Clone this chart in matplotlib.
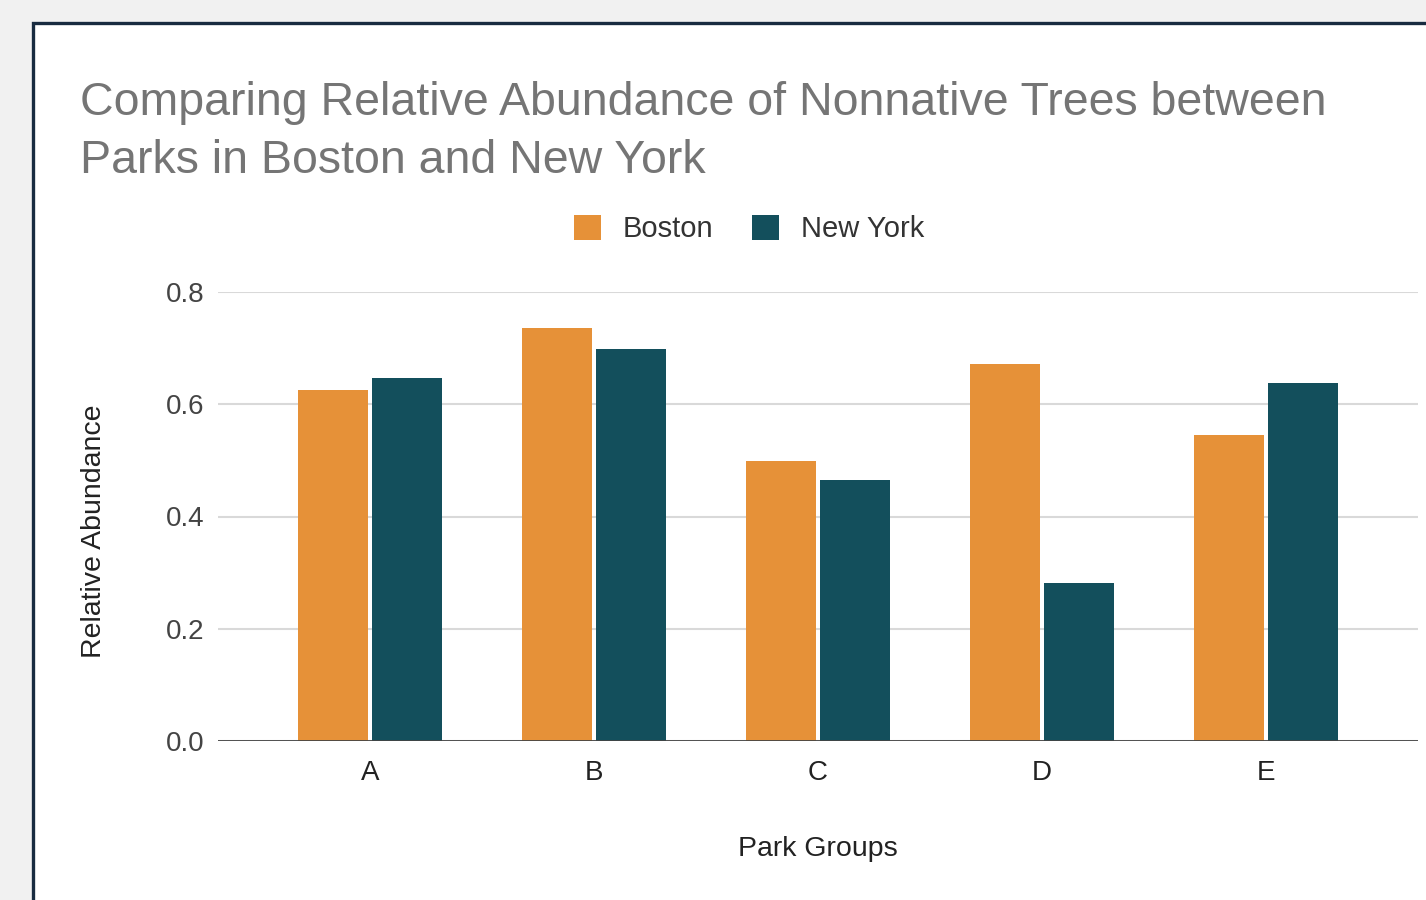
import matplotlib
matplotlib.use("Agg")
import matplotlib.pyplot as plt
import numpy as np
from matplotlib.patches import Rectangle

plt.rcParams["font.family"] = ["Liberation Sans", "DejaVu Sans"]

groups = ["A", "B", "C", "D", "E"]
boston = [0.625, 0.736, 0.499, 0.672, 0.545]
new_york = [0.647, 0.698, 0.465, 0.282, 0.638]
yticks = [0.0, 0.2, 0.4, 0.6, 0.8]

ORANGE = "#e69138"
TEAL = "#134f5c"
W, H = 1426, 900


def fx(px):
    return px / W


def fy(py):
    return 1 - py / H


fig = plt.figure(figsize=(W / 100, H / 100), dpi=100, facecolor="#f1f1f1")

# white card with dark border, running off the right and bottom edges
card = Rectangle((fx(33), -0.05), 1.1, fy(23) + 0.05, transform=fig.transFigure,
                 facecolor="white", edgecolor="#182b40", linewidth=2.4, zorder=-1)
fig.patches.append(card)

fig.text(fx(80), fy(115), "Comparing Relative Abundance of Nonnative Trees between",
         fontsize=33.5, color="#757575", va="baseline", ha="left")
fig.text(fx(80), fy(173), "Parks in Boston and New York",
         fontsize=33.5, color="#757575", va="baseline", ha="left")

ax = fig.add_axes([fx(218), fy(741), fx(1418) - fx(218), fy(292) - fy(741)])
ax.patch.set_alpha(0)

x = np.arange(len(groups))
bw = 0.31
ax.bar(x - 0.165, boston, bw, color=ORANGE, label="Boston", zorder=3)
ax.bar(x + 0.165, new_york, bw, color=TEAL, label="New York", zorder=3)

ax.set_xlim(-0.679, 4.679)
ax.set_ylim(0, 0.8)
ax.set_yticks(yticks)
ax.set_yticklabels([f"{v:.1f}" for v in yticks])
ax.set_xticks(x)
ax.set_xticklabels(groups)
ax.tick_params(axis="y", length=0, pad=10, labelsize=20, labelcolor="#444444")
ax.tick_params(axis="x", length=0, pad=14, labelsize=20, labelcolor="#222222")

ax.grid(axis="y", color="#d9d9d9", linewidth=1.5, zorder=0)
ax.axhline(0, color="#444444", linewidth=2, zorder=4)
for s in ax.spines.values():
    s.set_visible(False)

ax.set_xlabel("Park Groups", fontsize=20.5, color="#222222", labelpad=36)
ax.set_ylabel("Relative Abundance", fontsize=20.5, color="#222222")
ax.yaxis.set_label_coords(-0.0925, 0.468)

fig.legend(loc="center", bbox_to_anchor=(fx(749), fy(229)), ncol=2, frameon=False,
           fontsize=21, handlelength=0.95, handleheight=0.95, handletextpad=0.75,
           columnspacing=1.3, labelcolor="#333333")

fig.savefig("out.png", dpi=100, facecolor=fig.get_facecolor())
